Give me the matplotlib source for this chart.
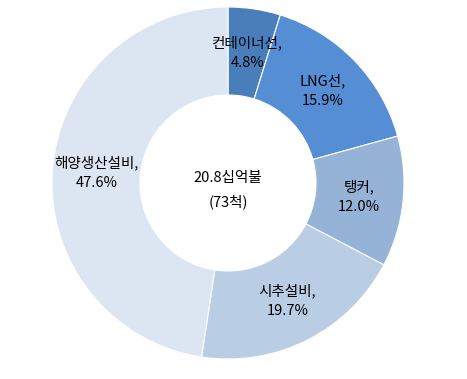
import matplotlib
matplotlib.use("Agg")
import matplotlib.pyplot as plt

plt.rcParams['font.family'] = ['Noto Sans CJK KR', 'DejaVu Sans']

# ---------- Data ----------
categories = ["컨테이너선", "LNG선", "탱커", "시추설비", "해양생산설비"]
shares = [4.8, 15.9, 12.0, 19.7, 47.6]
colors = ["#4a7ebb", "#558ed5", "#95b3d7", "#b9cde5", "#dce6f2"]
center_text = "20.8십억불\n(73척)"

labels = [f"{c},\n{v:.1f}%" for c, v in zip(categories, shares)]

# ---------- Plot ----------
W, H = 467, 379
cx, cy, R = 228, 183, 176
fig = plt.figure(figsize=(W / 100, H / 100), dpi=100)
ax = fig.add_axes([0, 0, 1, 1])

wedges, texts = ax.pie(
    shares, labels=labels, colors=colors, startangle=90, counterclock=False,
    radius=1.0, labeldistance=0.75,
    wedgeprops=dict(width=0.5, edgecolor="white", linewidth=0.8),
    textprops=dict(fontsize=10.5, color="black", ha="center", va="center",
                   linespacing=1.5),
)
for t in texts:
    t.set_horizontalalignment("center")

ax.text(0, -0.04, center_text, ha="center", va="center", fontsize=10.5,
        linespacing=1.75)

ax.set_xlim(-cx / R, (W - cx) / R)
ax.set_ylim(-(H - cy) / R, cy / R)
ax.set_aspect("equal")
ax.axis("off")

plt.savefig("out.png", dpi=100)
plt.close()
